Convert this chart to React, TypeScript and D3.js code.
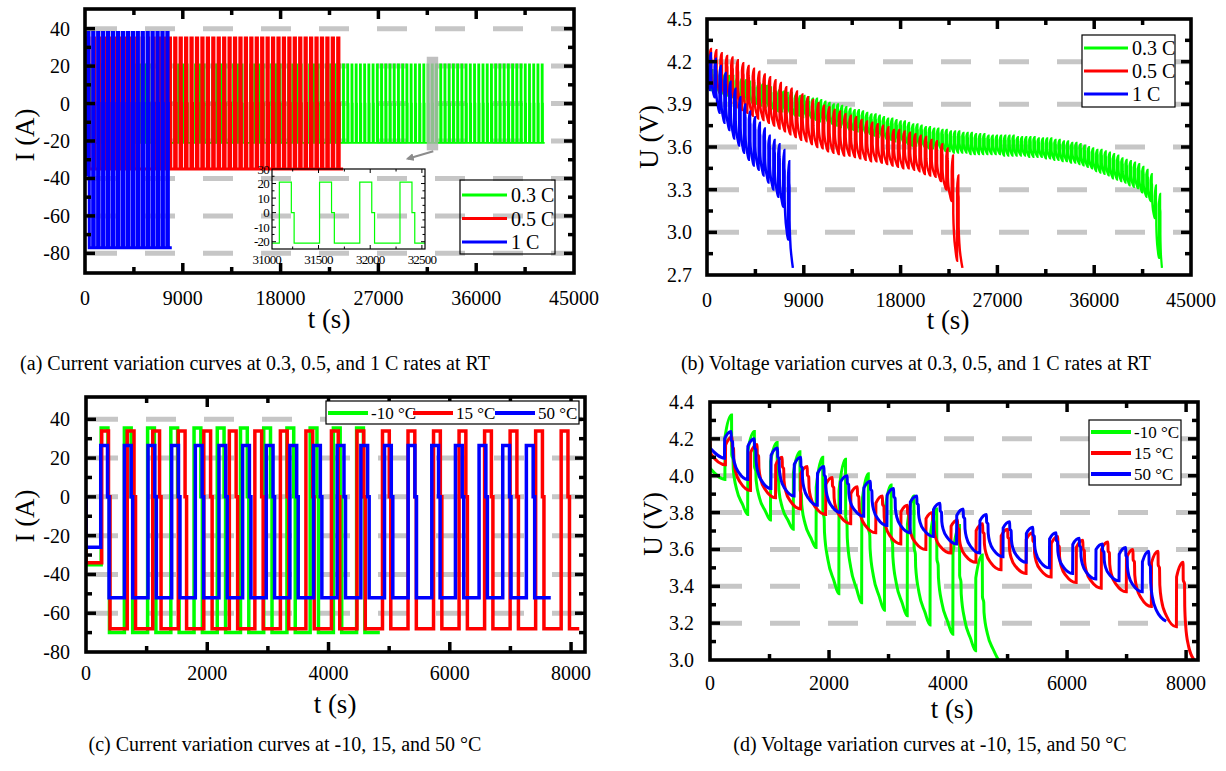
import React from 'react';
import * as d3 from 'd3';

type Pt = [number, number];
type Shape = { charge: Pt[]; discharge: Pt[] };

const FONT = '"Liberation Serif", "Times New Roman", Times, serif';
const seriesColors = ['#00ff00', '#ff0000', '#0000ff'];

// ---------------- (a) / (b): room temperature, three C-rates ----------------
const rateLabels = ['0.3 C', '0.5 C', '1 C'];
const rateFirstPulse = [390, 250, 250]; // s, start of first charge pulse
const ratePeriod = [389, 500, 455]; // s
const rateEnd = [42300, 23750, 7985]; // s, cut-off
const rateInitialCurrent = [-21, -35, -38]; // A
const rateChargeCurrent = [21, 35, 38]; // A
const rateDischargeCurrent = [-21, -35, -77]; // A
const rateChargeTime = 116; // s
const rateRestEnd = 143; // s after pulse start
const rateCurrentWidth = [1.6, 3, 3];
const rateVoltageWidth = [2.2, 2.4, 2.4];
const rateInitialVoltage: Pt[][] = [
  [[0, 4.16], [390, 4.0]],
  [[0, 4.15], [250, 4.02]],
  [[0, 4.17], [250, 4.0]],
];
// terminal voltage at the end of each charge pulse / end of each discharge step (V)
const peaks03C = [
  4.14, 4.13, 4.12, 4.11, 4.1, 4.1, 4.09,
  4.08, 4.07, 4.06, 4.05, 4.04, 4.04, 4.03, 4.02, 4.01, 4.0, 3.99,
  3.98, 3.98, 3.97, 3.96, 3.96, 3.95, 3.94, 3.94,
  3.93, 3.92, 3.91, 3.9, 3.9, 3.89, 3.88, 3.87, 3.86,
  3.86, 3.85, 3.84, 3.83, 3.83, 3.82, 3.81, 3.8,
  3.8, 3.79, 3.78, 3.78, 3.77, 3.76, 3.76,
  3.75, 3.74, 3.74, 3.73, 3.73, 3.72, 3.72, 3.71,
  3.71, 3.71, 3.7, 3.7, 3.7, 3.69, 3.69, 3.69,
  3.68, 3.68, 3.68, 3.68, 3.68, 3.68, 3.68, 3.67,
  3.67, 3.67, 3.67, 3.67, 3.66, 3.66, 3.66,
  3.66, 3.65, 3.65, 3.64, 3.64, 3.63, 3.63, 3.62,
  3.61, 3.6, 3.59, 3.58, 3.58, 3.57, 3.56, 3.55,
  3.54, 3.52, 3.51, 3.5, 3.49,
  3.48, 3.46, 3.44,
  3.41, 3.33, 3.27,
];
const troughs03C = [
  3.99, 3.98, 3.97, 3.96, 3.95, 3.94, 3.93,
  3.92, 3.91, 3.9, 3.9, 3.89, 3.88, 3.87, 3.86, 3.85, 3.85,
  3.84, 3.83, 3.82, 3.82, 3.81, 3.8, 3.8, 3.79, 3.78,
  3.77, 3.77, 3.76, 3.75, 3.74, 3.73, 3.72, 3.72,
  3.71, 3.7, 3.69, 3.69, 3.68, 3.67, 3.66, 3.65,
  3.65, 3.64, 3.63, 3.63, 3.62, 3.61, 3.61, 3.6,
  3.6, 3.59, 3.59, 3.58, 3.58, 3.57, 3.57,
  3.56, 3.56, 3.56, 3.56, 3.55, 3.55, 3.55, 3.55,
  3.55, 3.55, 3.55, 3.55, 3.54, 3.54, 3.54, 3.54,
  3.54, 3.54, 3.53, 3.53, 3.53, 3.53, 3.52,
  3.52, 3.51, 3.51, 3.5, 3.5, 3.49, 3.49, 3.48,
  3.47, 3.46, 3.45, 3.43, 3.42, 3.41, 3.4, 3.38,
  3.37, 3.36, 3.35, 3.33, 3.32, 3.31,
  3.28, 3.25, 3.22,
  3.1, 2.82, 2.75,
];
const peaks05C = [
  4.29, 4.28, 4.26, 4.24, 4.23, 4.21, 4.19, 4.17, 4.15, 4.13, 4.11,
  4.09, 4.07, 4.05, 4.02, 4.01, 3.99, 3.97, 3.95, 3.93, 3.91, 3.89,
  3.88, 3.86, 3.85, 3.83, 3.82, 3.81, 3.79, 3.78, 3.77, 3.76, 3.75,
  3.74, 3.72, 3.72, 3.71, 3.7, 3.69, 3.68, 3.67, 3.65, 3.64,
  3.62, 3.59, 3.54, 3.4,
];
const troughs05C = [
  4.0, 3.97, 3.94, 3.91, 3.88, 3.86, 3.84, 3.82, 3.8, 3.79, 3.77,
  3.75, 3.73, 3.71, 3.69, 3.67, 3.65, 3.64, 3.62, 3.6, 3.59, 3.57,
  3.56, 3.55, 3.54, 3.54, 3.53, 3.52, 3.51, 3.5, 3.5, 3.49, 3.48,
  3.47, 3.46, 3.45, 3.45, 3.44, 3.43, 3.41, 3.4, 3.39, 3.36,
  3.3, 3.22, 2.8, 2.75,
];
const peaks1C = [4.26, 4.22, 4.17, 4.12, 4.06, 4.01, 3.95, 3.9, 3.85, 3.81, 3.77, 3.73, 3.68, 3.65, 3.62, 3.58, 3.5];
const troughs1C = [3.95, 3.84, 3.77, 3.72, 3.66, 3.61, 3.56, 3.51, 3.47, 3.44, 3.4, 3.35, 3.3, 3.25, 3.18, 2.95, 2.75];
const ratePeaks = [peaks03C, peaks05C, peaks1C];
const rateTroughs = [troughs03C, troughs05C, troughs1C];

// ---------------- (c) / (d): three ambient temperatures ----------------
const tempLabels = ['-10 \u00b0C', '15 \u00b0C', '50 \u00b0C'];
const tempFirstPulse = [250, 259, 243]; // s
const tempPeriod = [383, 421, 390]; // s
const tempEnd = [4846, 8135, 7665]; // s
const tempInitialCurrent = [-35, -34, -26]; // A
const tempChargeCurrent = [35.5, 34, 26.5]; // A
const tempDischargeCurrent = [-70, -68, -52]; // A
const tempChargeTime = 112; // s
const tempRestEnd = 137; // s
const tempInitialVoltage: Pt[][] = [
  [[0, 4.04], [250, 3.98]],
  [[0, 4.19], [12, 4.12], [259, 4.06]],
  [[0, 4.15], [243, 4.095]],
];
const peaksMinus10 = [4.33, 4.24, 4.18, 4.13, 4.1, 4.09, 4.01, 3.95, 3.89, 3.82, 3.73, 3.57];
const troughsMinus10 = [3.79, 3.76, 3.71, 3.61, 3.36, 3.31, 3.27, 3.24, 3.19, 3.14, 3.05, 3.0];
const peaks15 = [4.21, 4.17, 4.1, 4.05, 3.99, 3.94, 3.89, 3.84, 3.8, 3.76, 3.74, 3.71, 3.69, 3.67, 3.65, 3.64, 3.6, 3.59, 3.53];
const troughs15 = [3.92, 3.88, 3.82, 3.79, 3.74, 3.69, 3.63, 3.6, 3.58, 3.53, 3.49, 3.47, 3.45, 3.42, 3.39, 3.37, 3.29, 3.18, 3.0];
const peaks50 = [4.24, 4.2, 4.15, 4.1, 4.05, 4.0, 3.97, 3.93, 3.89, 3.85, 3.82, 3.79, 3.75, 3.72, 3.69, 3.66, 3.63, 3.61, 3.59];
const troughs50 = [3.98, 3.93, 3.89, 3.84, 3.8, 3.78, 3.73, 3.69, 3.67, 3.63, 3.58, 3.56, 3.53, 3.5, 3.47, 3.44, 3.43, 3.37, 3.21];
const tempPeaks = [peaksMinus10, peaks15, peaks50];
const tempTroughs = [troughsMinus10, troughs15, troughs50];

// Shape of one pulse response: charge/rest points as [s after pulse start, fraction trough->peak],
// discharge points as [fraction of discharge time, fraction trough->peak].
const rateShape: Shape = {
  charge: [[2, 0.85], [116, 1], [118, 0.8], [143, 0.76]],
  discharge: [[0.01, 0.45], [0.2, 0.26], [0.6, 0.1], [1, 0]],
};
const warmShape: Shape = {
  charge: [[3, 0.85], [112, 1], [115, 0.82], [137, 0.78]],
  discharge: [[0.02, 0.55], [0.12, 0.35], [0.4, 0.15], [1, 0]],
};
const coldShape: Shape = {
  charge: [[3, 0.78], [112, 1], [115, 0.6], [137, 0.55]],
  discharge: [[0.02, 0.45], [0.25, 0.25], [0.65, 0.1], [1, 0]],
};
const tempShapes = [coldShape, warmShape, warmShape];

// Axis ticks
const rateTimeTicks = [0, 9000, 18000, 27000, 36000, 45000];
const rateTimeMinor = [4500, 13500, 22500, 31500, 40500];
const currentTicks = [-80, -60, -40, -20, 0, 20, 40];
const currentMinor = [-90, -70, -50, -30, -10, 10, 30, 50];
const rateVoltTicks = [2.7, 3.0, 3.3, 3.6, 3.9, 4.2, 4.5];
const rateVoltMinor = [2.85, 3.15, 3.45, 3.75, 4.05, 4.35];
const tempTimeTicks = [0, 2000, 4000, 6000, 8000];
const tempTimeMinor = [1000, 3000, 5000, 7000];
const tempVoltTicks = [3.0, 3.2, 3.4, 3.6, 3.8, 4.0, 4.2, 4.4];
const tempVoltMinor = [3.1, 3.3, 3.5, 3.7, 3.9, 4.1, 4.3];
const insetTimeTicks = [31000, 31500, 32000, 32500];
const insetTimeMinor = [31250, 31750, 32250];
const insetCurrentTicks = [-20, -10, 0, 10, 20, 30];
const insetCurrentMinor = [-15, -5, 5, 15, 25];

const captions = [
  '(a) Current variation curves at 0.3, 0.5, and 1 C rates at RT',
  '(b) Voltage variation curves at 0.3, 0.5, and 1 C rates at RT',
  '(c) Current variation curves at -10, 15, and 50 \u00b0C',
  '(d) Voltage variation curves at -10, 15, and 50 \u00b0C',
];

function pulseStarts(first: number, period: number, count: number): number[] {
  return d3.range(count).map((k) => first + k * period);
}

function currentTrace(starts: number[], end: number, init: number, ch: number, dis: number, chT: number, restEnd: number): Pt[] {
  const pts: Pt[] = [[0, 0], [0, init]];
  let level = init;
  for (const s of starts) {
    pts.push([s, level], [s, ch], [s + chT, ch], [s + chT, 0], [s + restEnd, 0], [s + restEnd, dis]);
    level = dis;
  }
  pts.push([end, level]);
  return pts;
}

function voltageTrace(initial: Pt[], starts: number[], end: number, peaks: number[], troughs: number[], shape: Shape): Pt[] {
  const pts: Pt[] = initial.map((p) => [p[0], p[1]] as Pt);
  const restEnd = shape.charge[shape.charge.length - 1][0];
  starts.forEach((s, k) => {
    const next = k < starts.length - 1 ? starts[k + 1] : end;
    const P = peaks[k];
    const T = troughs[k];
    const lv = (f: number) => T + f * (P - T);
    shape.charge.forEach(([dt, f]) => pts.push([s + dt, lv(f)]));
    const d0 = s + restEnd;
    const dur = next - d0;
    shape.discharge.forEach(([u, f]) => pts.push([d0 + u * dur, lv(f)]));
  });
  return pts;
}

type Lin = d3.ScaleLinear<number, number>;

function Grid({ x, y, values }: { x: Lin; y: Lin; values: number[] }) {
  const [l, r] = x.range();
  const [b, t] = y.range();
  return (
    <g>
      {values
        .map((v) => y(v))
        .filter((p) => p - t > 4 && b - p > 4)
        .map((p, i) => (
          <line key={i} x1={l + 2} x2={r} y1={p} y2={p} stroke="#c6c6c6" strokeWidth={5} strokeDasharray="30 28" />
        ))}
    </g>
  );
}

type AxesProps = {
  x: Lin; y: Lin;
  xMajor: number[]; xMinor: number[]; yMajor: number[]; yMinor: number[];
  yFmt: (v: number) => string; yLabelRight: number; xLabelBase: number;
};

function Axes({ x, y, xMajor, xMinor, yMajor, yMinor, yFmt, yLabelRight, xLabelBase }: AxesProps) {
  const [l, r] = x.range();
  const [b, t] = y.range();
  const ticks: JSX.Element[] = [];
  const addX = (vals: number[], len: number, tag: string) =>
    vals.forEach((v, i) => {
      const p = x(v);
      if (p - l < 4 || r - p < 4) return;
      ticks.push(<line key={`${tag}b${i}`} x1={p} x2={p} y1={b} y2={b - len} />);
      ticks.push(<line key={`${tag}t${i}`} x1={p} x2={p} y1={t} y2={t + len} />);
    });
  const addY = (vals: number[], len: number, tag: string) =>
    vals.forEach((v, i) => {
      const p = y(v);
      if (p - t < 4 || b - p < 4) return;
      ticks.push(<line key={`${tag}l${i}`} x1={l} x2={l + len} y1={p} y2={p} />);
      ticks.push(<line key={`${tag}r${i}`} x1={r} x2={r - len} y1={p} y2={p} />);
    });
  addX(xMajor, 10, 'xM');
  addX(xMinor, 6, 'xm');
  addY(yMajor, 10, 'yM');
  addY(yMinor, 6, 'ym');
  return (
    <g>
      <g stroke="#000" strokeWidth={3.5}>{ticks}</g>
      <rect x={l} y={t} width={r - l} height={b - t} fill="none" stroke="#000" strokeWidth={3.6} />
      <g fontSize={20} fill="#000">
        {xMajor.map((v) => (
          <text key={`xl${v}`} x={x(v)} y={xLabelBase} textAnchor="middle">{v}</text>
        ))}
        {yMajor.map((v) => (
          <text key={`yl${v}`} x={yLabelRight} y={y(v)} dy="0.35em" textAnchor="end">{yFmt(v)}</text>
        ))}
      </g>
    </g>
  );
}

function pathOf(pts: Pt[], x: Lin, y: Lin, curve: d3.CurveFactory) {
  return d3.line<Pt>().x((d) => x(d[0])).y((d) => y(d[1])).curve(curve)(pts) || '';
}

export default function App() {
  // panel scales
  const xA = d3.scaleLinear().domain([0, 45000]).range([85, 574]);
  const yA = d3.scaleLinear().domain([-90.5, 50.5]).range([273, 9]);
  const xB = d3.scaleLinear().domain([0, 45000]).range([707, 1191]);
  const yB = d3.scaleLinear().domain([2.7, 4.5]).range([275, 19]);
  const xC = d3.scaleLinear().domain([0, 8230]).range([86, 585]);
  const yC = d3.scaleLinear().domain([-80, 51.5]).range([652, 397]);
  const xD = d3.scaleLinear().domain([0, 8200]).range([710, 1198]);
  const yD = d3.scaleLinear().domain([3.0, 4.4]).range([660, 402]);
  const xIn = d3.scaleLinear().domain([31050, 32530]).range([272, 425]);
  const yIn = d3.scaleLinear().domain([-25, 30]).range([249, 169]);

  const rateStarts = rateLabels.map((_, i) => pulseStarts(rateFirstPulse[i], ratePeriod[i], ratePeaks[i].length));
  const tempStarts = tempLabels.map((_, i) => pulseStarts(tempFirstPulse[i], tempPeriod[i], tempPeaks[i].length));

  const rateCurrent = rateLabels.map((_, i) =>
    currentTrace(rateStarts[i], rateEnd[i], rateInitialCurrent[i], rateChargeCurrent[i], rateDischargeCurrent[i], rateChargeTime, rateRestEnd)
  );
  const rateVoltage = rateLabels.map((_, i) =>
    voltageTrace(rateInitialVoltage[i], rateStarts[i], rateEnd[i], ratePeaks[i], rateTroughs[i], rateShape)
  );
  const tempCurrent = tempLabels.map((_, i) =>
    currentTrace(tempStarts[i], tempEnd[i], tempInitialCurrent[i], tempChargeCurrent[i], tempDischargeCurrent[i], tempChargeTime, tempRestEnd)
  );
  const tempVoltage = tempLabels.map((_, i) =>
    voltageTrace(tempInitialVoltage[i], tempStarts[i], tempEnd[i], tempPeaks[i], tempTroughs[i], tempShapes[i])
  );

  const clipRect = (id: string, x: Lin, y: Lin) => {
    const [l, r] = x.range();
    const [b, t] = y.range();
    return (
      <clipPath id={id} key={id}>
        <rect x={l} y={t} width={r - l} height={b - t} />
      </clipPath>
    );
  };

  const fmtInt = (v: number) => String(v);
  const fmt1 = (v: number) => v.toFixed(1);

  // inset frame extents
  const [inL, inR] = xIn.range();
  const [inB, inT] = yIn.range();

  return (
    <svg width={1226} height={771} style={{ position: 'absolute', left: 0, top: 0 }} fontFamily={FONT}>
      <rect width={1226} height={771} fill="#fff" />
      <defs>
        {clipRect('clipA', xA, yA)}
        {clipRect('clipB', xB, yB)}
        {clipRect('clipC', xC, yC)}
        {clipRect('clipD', xD, yD)}
        {clipRect('clipIn', xIn, yIn)}
        <marker id="arrowHead" markerWidth={8} markerHeight={8} refX={6} refY={4} orient="auto" markerUnits="userSpaceOnUse">
          <path d="M0,0 L8,4 L0,8 z" fill="#8c8c8c" />
        </marker>
      </defs>

      {/* ---------- (a) current at three C-rates ---------- */}
      <Grid x={xA} y={yA} values={currentTicks} />
      <g clipPath="url(#clipA)" fill="none">
        {rateCurrent.map((pts, i) => (
          <path key={i} d={pathOf(pts, xA, yA, d3.curveLinear)} stroke={seriesColors[i]} strokeWidth={rateCurrentWidth[i]} />
        ))}
        <rect x={xA(31450)} y={yA(25)} width={xA(32500) - xA(31450)} height={yA(-25) - yA(25)} fill="#b0b0b0" fillOpacity={0.8} />
      </g>
      <line x1={xA(32050)} y1={yA(-25.5)} x2={xA(29700)} y2={yA(-29.5)} stroke="#8c8c8c" strokeWidth={2} markerEnd="url(#arrowHead)" />
      {/* inset: zoom of the 0.3 C pulses */}
      <g clipPath="url(#clipIn)" fill="none">
        <path d={pathOf(rateCurrent[0], xIn, yIn, d3.curveLinear)} stroke={seriesColors[0]} strokeWidth={1.2} />
      </g>
      <g stroke="#000" strokeWidth={1}>
        {insetTimeTicks.concat(insetTimeMinor).map((v, i) => {
          const p = xIn(v);
          if (p - inL < 2 || inR - p < 2) return null;
          const len = insetTimeMinor.includes(v) ? 2.5 : 4;
          return (
            <g key={`it${i}`}>
              <line x1={p} x2={p} y1={inB} y2={inB - len} />
              <line x1={p} x2={p} y1={inT} y2={inT + len} />
            </g>
          );
        })}
        {insetCurrentTicks.concat(insetCurrentMinor).map((v, i) => {
          const p = yIn(v);
          if (p - inT < 2 || inB - p < 2) return null;
          const len = insetCurrentMinor.includes(v) ? 2.5 : 4;
          return (
            <g key={`ic${i}`}>
              <line x1={inL} x2={inL + len} y1={p} y2={p} />
              <line x1={inR} x2={inR - len} y1={p} y2={p} />
            </g>
          );
        })}
      </g>
      <rect x={inL} y={inT} width={inR - inL} height={inB - inT} fill="none" stroke="#000" strokeWidth={1.2} />
      <g fontSize={13} letterSpacing={-0.8} fill="#000">
        {insetTimeTicks.map((v) => (
          <text key={`itl${v}`} x={xIn(v)} y={inB + 15} textAnchor="middle">{v}</text>
        ))}
        {insetCurrentTicks.map((v) => (
          <text key={`icl${v}`} x={inL - 3} y={yIn(v)} dy="0.35em" textAnchor="end">{v}</text>
        ))}
      </g>
      <Axes x={xA} y={yA} xMajor={rateTimeTicks} xMinor={rateTimeMinor} yMajor={currentTicks} yMinor={currentMinor}
        yFmt={fmtInt} yLabelRight={70} xLabelBase={305} />
      <g>
        <rect x={460} y={180} width={95} height={74} fill="none" stroke="#000" strokeWidth={1.2} />
        {rateLabels.map((lab, i) => (
          <g key={lab}>
            <line x1={462} x2={507} y1={195 + i * 23.5} y2={195 + i * 23.5} stroke={seriesColors[i]} strokeWidth={3} />
            <text x={511} y={195 + i * 23.5} dy="0.35em" fontSize={20}>{lab}</text>
          </g>
        ))}
      </g>
      <text transform="translate(34,135) rotate(-90)" textAnchor="middle" fontSize={27}>I (A)</text>
      <text x={329} y={328} textAnchor="middle" fontSize={27}>t (s)</text>

      {/* ---------- (b) voltage at three C-rates ---------- */}
      <Grid x={xB} y={yB} values={rateVoltTicks} />
      <g clipPath="url(#clipB)" fill="none">
        {rateVoltage.map((pts, i) => (
          <path key={i} d={pathOf(pts, xB, yB, d3.curveMonotoneX)} stroke={seriesColors[i]} strokeWidth={rateVoltageWidth[i]} />
        ))}
      </g>
      <Axes x={xB} y={yB} xMajor={rateTimeTicks} xMinor={rateTimeMinor} yMajor={rateVoltTicks} yMinor={rateVoltMinor}
        yFmt={fmt1} yLabelRight={692} xLabelBase={307} />
      <g>
        <rect x={1082} y={35} width={93} height={72} fill="#fff" stroke="#000" strokeWidth={1.2} />
        {rateLabels.map((lab, i) => (
          <g key={lab}>
            <line x1={1084} x2={1128} y1={48 + i * 23} y2={48 + i * 23} stroke={seriesColors[i]} strokeWidth={3} />
            <text x={1132} y={48 + i * 23} dy="0.35em" fontSize={20}>{lab}</text>
          </g>
        ))}
      </g>
      <text transform="translate(658,137) rotate(-90)" textAnchor="middle" fontSize={27}>U (V)</text>
      <text x={948} y={329} textAnchor="middle" fontSize={27}>t (s)</text>

      {/* ---------- (c) current at three temperatures ---------- */}
      <Grid x={xC} y={yC} values={currentTicks} />
      <g clipPath="url(#clipC)" fill="none">
        {tempCurrent.map((pts, i) => (
          <path key={i} d={pathOf(pts, xC, yC, d3.curveLinear)} stroke={seriesColors[i]} strokeWidth={3.5} />
        ))}
      </g>
      <Axes x={xC} y={yC} xMajor={tempTimeTicks} xMinor={tempTimeMinor} yMajor={currentTicks} yMinor={currentMinor}
        yFmt={fmtInt} yLabelRight={70} xLabelBase={680} />
      <g>
        <rect x={326} y={401} width={253} height={23} fill="#fff" stroke="#000" strokeWidth={1.2} />
        {tempLabels.map((lab, i) => {
          const lx = [328, 413, 495][i];
          return (
            <g key={lab}>
              <line x1={lx} x2={lx + 40} y1={413} y2={413} stroke={seriesColors[i]} strokeWidth={4} />
              <text x={lx + 43} y={413} dy="0.35em" fontSize={17}>{lab}</text>
            </g>
          );
        })}
      </g>
      <text transform="translate(34,516) rotate(-90)" textAnchor="middle" fontSize={27}>I (A)</text>
      <text x={335} y={713} textAnchor="middle" fontSize={27}>t (s)</text>

      {/* ---------- (d) voltage at three temperatures ---------- */}
      <Grid x={xD} y={yD} values={tempVoltTicks} />
      <g clipPath="url(#clipD)" fill="none">
        {tempVoltage.map((pts, i) => (
          <path key={i} d={pathOf(pts, xD, yD, d3.curveMonotoneX)} stroke={seriesColors[i]} strokeWidth={3} />
        ))}
      </g>
      <Axes x={xD} y={yD} xMajor={tempTimeTicks} xMinor={tempTimeMinor} yMajor={tempVoltTicks} yMinor={tempVoltMinor}
        yFmt={fmt1} yLabelRight={694} xLabelBase={690} />
      <g>
        <rect x={1089} y={420} width={92} height={65} fill="#fff" stroke="#000" strokeWidth={1.2} />
        {tempLabels.map((lab, i) => (
          <g key={lab}>
            <line x1={1091} x2={1131} y1={432 + i * 21} y2={432 + i * 21} stroke={seriesColors[i]} strokeWidth={4} />
            <text x={1134} y={432 + i * 21} dy="0.35em" fontSize={17}>{lab}</text>
          </g>
        ))}
      </g>
      <text transform="translate(662,524) rotate(-90)" textAnchor="middle" fontSize={27}>U (V)</text>
      <text x={952} y={718} textAnchor="middle" fontSize={27}>t (s)</text>

      {/* ---------- captions ---------- */}
      <g fontSize={20} fill="#000" textAnchor="middle">
        <text x={255} y={370}>{captions[0]}</text>
        <text x={916} y={370}>{captions[1]}</text>
        <text x={285} y={751}>{captions[2]}</text>
        <text x={930} y={751}>{captions[3]}</text>
      </g>
    </svg>
  );
}
